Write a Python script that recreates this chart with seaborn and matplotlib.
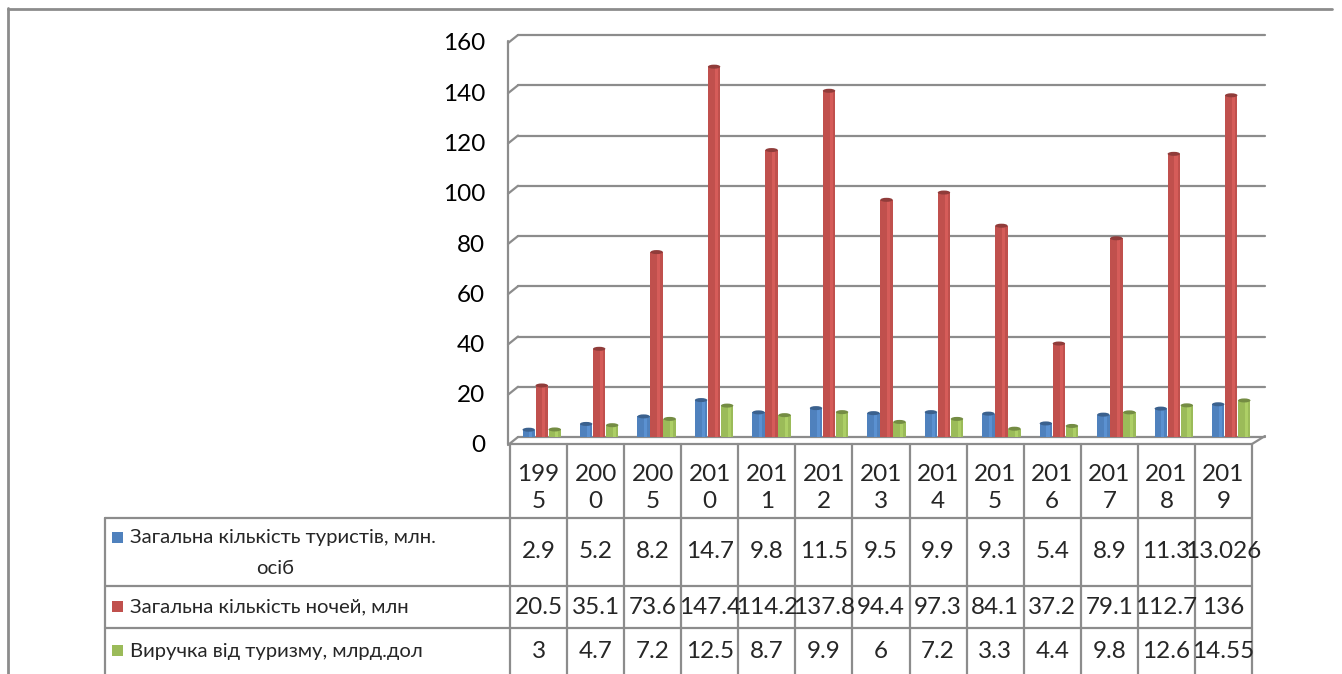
import pandas as pd
import numpy as np
import matplotlib
matplotlib.use('Agg')
import matplotlib.pyplot as plt
import matplotlib.transforms as mtrans
from matplotlib.patches import Ellipse, Rectangle
import seaborn as sns

# дані з таблиці
years = ['1995', '2000', '2005', '2010', '2011', '2012', '2013', '2014', '2015', '2016', '2017', '2018', '2019']
tourists = [2.9, 5.2, 8.2, 14.7, 9.8, 11.5, 9.5, 9.9, 9.3, 5.4, 8.9, 11.3, 13.026]
nights = [20.5, 35.1, 73.6, 147.4, 114.2, 137.8, 94.4, 97.3, 84.1, 37.2, 79.1, 112.7, 136]
revenue = [3, 4.7, 7.2, 12.5, 8.7, 9.9, 6, 7.2, 3.3, 4.4, 9.8, 12.6, 14.55]
series_names = ['Загальна кількість туристів, млн. осіб',
                'Загальна кількість ночей, млн',
                'Виручка від туризму, млрд.дол']
colors = ['#4F81BD', '#C0504D', '#9BBB59']
y_ticks = [0, 20, 40, 60, 80, 100, 120, 140, 160]

df = pd.DataFrame({
    'year': years * 3,
    'value': tourists + nights + revenue,
    'series': [series_names[0]] * 13 + [series_names[1]] * 13 + [series_names[2]] * 13,
})

sns.set_theme(style='white')
plt.rcParams['font.family'] = ['Lato', 'DejaVu Sans']

NUM_FS = 17.5   # цифри
NAME_FS = 14.6  # назви рядів

W, H = 1342, 674
fig = plt.figure(figsize=(W / 100, H / 100), dpi=100)
fig.patch.set_facecolor('white')

# перетворення в пікселі фігури (y вниз)
px = mtrans.Affine2D().scale(1 / W, -1 / H).translate(0, 1) + fig.transFigure

# область побудови (задня стінка)
x0, x1 = 513, 1260
y_zero, y_top = 437, 35
ax = fig.add_axes([x0 / W, (H - y_zero) / H, (x1 - x0) / W, (y_zero - y_top) / H])
ax.set_xlim(-0.5, 12.5)
ax.set_ylim(0, 160)
ax.axis('off')

grid_c = '#8c8c8c'
back = mtrans.offset_copy(ax.transData, fig, x=5, y=0, units='dots')
for v in y_ticks:
    ax.plot([-0.5, 12.5], [v, v], color=grid_c, lw=1.6, transform=back, clip_on=False, zorder=0)
    # маленька діагональ зліва
    p = ax.transData.transform((-0.5, v))
    pb = px.inverted().transform(p)
    fig.add_artist(plt.Line2D([pb[0] - 5, pb[0] + 5], [pb[1] + 8, pb[1]], transform=px,
                              color=grid_c, lw=1.6))
    lab = mtrans.offset_copy(ax.transData, fig, x=-28, y=-9, units='dots')
    ax.text(-0.5, v, str(v), transform=lab, ha='right', va='center', fontsize=NUM_FS, color='black')

# стовпці
sns.barplot(data=df, x='year', y='value', hue='series', palette=colors, width=0.68, gap=0.05,
            ax=ax, legend=False, saturation=1, edgecolor='none', zorder=2)
ax.set_xlim(-0.5, 12.5)
ax.set_ylim(0, 160)
ax.axis('off')

cap_h = 1.6
for patch in list(ax.patches):
    xb, w, h = patch.get_x(), patch.get_width(), patch.get_height()
    fc = patch.get_facecolor()
    dark = tuple(c * 0.75 for c in fc[:3])
    light = tuple(min(1, c * 1.15 + 0.05) for c in fc[:3])
    ax.add_patch(Rectangle((xb + w * 0.55, 0), w * 0.25, h, facecolor=light, edgecolor='none',
                           alpha=0.5, zorder=2.5))
    ax.add_patch(Ellipse((xb + w / 2, 0), w, cap_h, facecolor=fc, edgecolor='none', zorder=1.9))
    ax.add_patch(Ellipse((xb + w / 2, h), w, cap_h, facecolor=dark, edgecolor='none', zorder=3))

# передня рамка
line_kw = dict(transform=px, color=grid_c, lw=1.6)
fig.add_artist(plt.Line2D([508, 508], [41, 444], **line_kw))
fig.add_artist(plt.Line2D([508, 1252], [444, 444], **line_kw))
fig.add_artist(plt.Line2D([1252, 1265], [444, 436], **line_kw))

# таблиця даних
tx0, tx1 = 510, 1252
cw = (tx1 - tx0) / len(years)
rows_y = [518, 586, 628, 674]
for i in range(len(years) + 1):
    fig.add_artist(plt.Line2D([tx0 + i * cw] * 2, [444, 674], **line_kw))
fig.add_artist(plt.Line2D([105, 105], [518, 674], **line_kw))
for y in rows_y[:3]:
    fig.add_artist(plt.Line2D([105, tx1], [y, y], **line_kw))

for i, yr in enumerate(years):
    fig.text(tx0 + (i + 0.5) * cw, 488, yr[:3] + '\n' + yr[3:], transform=px, ha='center',
             va='center', fontsize=NUM_FS, linespacing=1.3)

row_centers = [552, 607, 651]
for r, vals in enumerate([tourists, nights, revenue]):
    for i, v in enumerate(vals):
        fig.text(tx0 + (i + 0.5) * cw, row_centers[r], f'{v:g}', transform=px, ha='center',
                 va='center', fontsize=NUM_FS)

# назви рядів з маркерами
name_y = [538, 607, 651]
for r, name in enumerate(series_names):
    fig.add_artist(Rectangle((112, name_y[r] - 6), 11, 11, transform=px, facecolor=colors[r],
                             edgecolor='none'))
    first = name if r > 0 else 'Загальна кількість туристів, млн.'
    fig.text(130, name_y[r], first, transform=px, ha='left', va='center', fontsize=NAME_FS)
fig.text(275, 568, 'осіб', transform=px, ha='center', va='center', fontsize=NAME_FS)

# зовнішня рамка
fig.add_artist(plt.Line2D([8, 8], [8, 674], transform=px, color=grid_c, lw=2))
fig.add_artist(plt.Line2D([8, 1332], [9, 9], transform=px, color=grid_c, lw=2))

fig.savefig('out.png', dpi=100, facecolor='white')
